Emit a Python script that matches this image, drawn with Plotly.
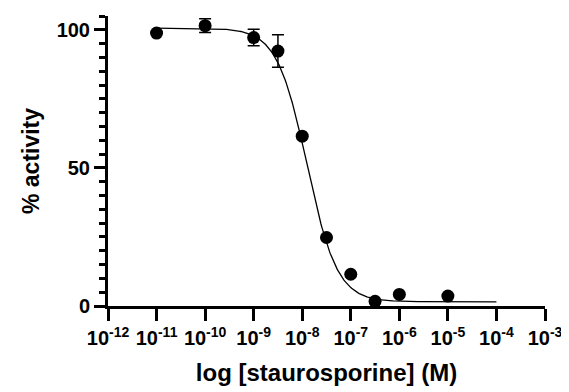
import numpy as np
import plotly.graph_objects as go

# Measured data (log10 molar concentration, % activity, SD)
log_conc = [-11, -10, -9, -8.5, -8, -7.5, -7, -6.5, -6, -5]
activity = [98.8, 101.5, 97.2, 92.3, 61.5, 24.8, 11.5, 1.7, 4.2, 3.6]
err = [0, 2.5, 3.0, 5.9, 0, 0, 0, 0, 0, 0]

# Four-parameter logistic fit parameters
fit_top = 100.6
fit_bottom = 1.5
fit_logIC50 = -7.9
fit_hill = 1.4
fit_range = [-11, -4]

x_tick_exps = list(range(-12, -2))
y_tick_vals = [0, 50, 100]

conc = [10 ** v for v in log_conc]
xf = np.linspace(fit_range[0], fit_range[1], 400)
yf = fit_bottom + (fit_top - fit_bottom) / (1 + 10 ** (fit_hill * (xf - fit_logIC50)))

fig = go.Figure()
fig.add_trace(go.Scatter(
    x=10 ** xf, y=yf, mode="lines",
    line=dict(color="black", width=1.3), showlegend=False, hoverinfo="skip"))
fig.add_trace(go.Scatter(
    x=conc, y=activity, mode="markers",
    marker=dict(color="black", size=13),
    error_y=dict(type="data", array=err, visible=True, color="black", thickness=1.5, width=6),
    cliponaxis=False, showlegend=False))

font_family = "Liberation Sans, Arial, sans-serif"
ticktext = [f"10<sup>{e}</sup>" for e in x_tick_exps]

fig.update_layout(
    width=569, height=392,
    margin=dict(l=100, r=32, t=8, b=94),
    paper_bgcolor="white", plot_bgcolor="white",
    font=dict(family=font_family, color="black", size=20, weight="bold"),
    xaxis=dict(
        type="log", range=[-12, -3], automargin=False,
        tickvals=[10 ** e for e in x_tick_exps], ticktext=ticktext,
        ticks="outside", ticklen=12, tickwidth=3, tickcolor="black",
        showline=True, linewidth=3, linecolor="black",
        showgrid=False, zeroline=False,
        tickfont=dict(size=20, weight="bold"),
        title=dict(text="log [staurosporine] (M)", font=dict(size=24, weight="bold"), standoff=17),
    ),
    yaxis=dict(
        range=[0, 105], automargin=False,
        tickvals=y_tick_vals,
        ticks="outside", ticklen=11, tickwidth=3, tickcolor="black",
        minor=dict(dtick=5, tick0=0, ticks="outside", ticklen=6, tickwidth=3, tickcolor="black"),
        showline=True, linewidth=3, linecolor="black",
        showgrid=False, zeroline=False,
        tickfont=dict(size=20, weight="bold"),
        title=dict(text="% activity", font=dict(size=23, weight="bold"), standoff=11),
    ),
)

fig.write_html("out.html")
